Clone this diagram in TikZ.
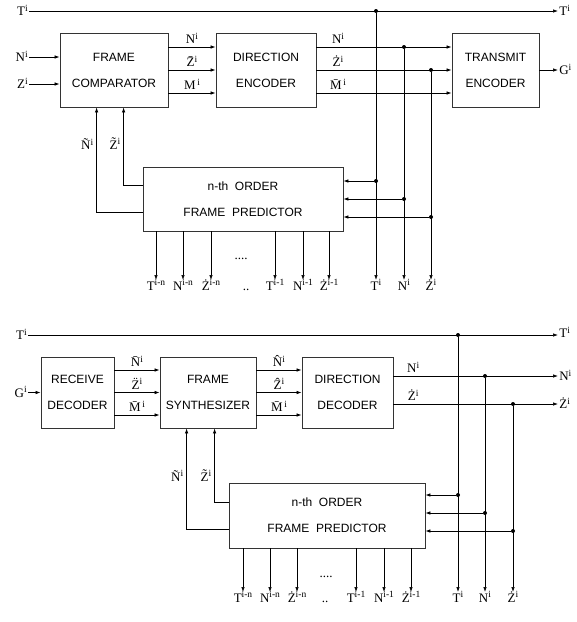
\documentclass[tikz,border=0pt]{standalone}
\usepackage{fontspec}
\setmainfont{Liberation Serif}
\setsansfont{Liberation Sans}
\usetikzlibrary{arrows.meta,positioning,calc}
\newcommand{\sig}[2]{#1\raisebox{4.5pt}{\fontsize{9.5}{10}\selectfont#2}}
\tikzset{
  blockbox/.style={draw=black!80, line width=0.8pt, align=center, inner sep=0pt,
    font=\fontsize{12}{26}\selectfont\sffamily},
  lbl/.style={font=\fontsize{13}{15}\selectfont, inner sep=1pt,
    text height=9pt, text depth=0pt},
  arrw/.style={-{Latex[length=5pt,width=3.5pt]}},
  tap/.style={circle, fill, inner sep=0pt, minimum size=4pt},
}
\begin{document}
\begin{tikzpicture}[x=1pt, y=-1pt, line width=0.7pt]
  \useasboundingbox (0,0) rectangle (577,622);

  % ---------------- transmitter ----------------
  \node[blockbox, minimum width=108pt, minimum height=74pt] (comp) at (114,70)
    {FRAME\\COMPARATOR};
  \node[blockbox, minimum width=100pt, minimum height=74pt] (denc) at (266,70)
    {DIRECTION\\ENCODER};
  \node[blockbox, minimum width=87pt, minimum height=74pt] (tenc) at (495.5,70)
    {TRANSMIT\\ENCODER};
  \node[blockbox, minimum width=200pt, minimum height=64pt] (predA) at (243,199)
    {n-th\ \ ORDER\\FRAME\ \ PREDICTOR};

  % inputs / outputs
  \node[lbl, anchor=east] (tA) at (29,11) {\sig{T}{i}};
  \node[lbl, anchor=west] (tAout) at (558,11) {\sig{T}{i}};
  \node[lbl, anchor=east] (nA) at (29,57) {\sig{N}{i}};
  \node[lbl, anchor=east] (zA) at (29,84) {\sig{Z}{i}};
  \node[lbl, anchor=west] (gA) at (558,70) {\sig{G}{i}};

  \draw[arrw] (tA) -- (tAout);
  \draw[arrw] (nA) -- (nA -| comp.west);
  \draw[arrw] (zA) -- (zA -| comp.west);

  \draw[arrw] ([yshift=23pt]comp.east) -- ([yshift=23pt]denc.west)
    node[lbl, midway, above=2pt] {\sig{N}{i}};
  \draw[arrw] (comp.east) -- (denc.west)
    node[lbl, midway, above=2pt] {\sig{\=Z}{i}};
  \draw[arrw] ([yshift=-23pt]comp.east) -- ([yshift=-23pt]denc.west)
    node[lbl, midway, above=2pt] {\sig{M}{\,i}};

  \draw[arrw] ([yshift=23pt]denc.east) -- ([yshift=23pt]tenc.west)
    node[lbl, pos=0.16, above=2pt] {\sig{N}{i}};
  \draw[arrw] (denc.east) -- (tenc.west)
    node[lbl, pos=0.16, above=2pt] {\sig{\.Z}{i}};
  \draw[arrw] ([yshift=-23pt]denc.east) -- ([yshift=-23pt]tenc.west)
    node[lbl, pos=0.16, above=2pt] {\sig{\=M}{\,i}};
  \draw[arrw] (tenc) -- (gA);

  % taps
  \node[tap] (dTA) at (376,11) {};
  \node[tap] (dNA) at (404,47) {};
  \node[tap] (dZA) at (431,70) {};
  \node[tap] (pTA) at (376,181) {};
  \node[tap] (pNA) at (404,199) {};
  \node[tap] (pZA) at (431,217) {};

  \node[lbl, anchor=north] (tAd) at (376,280) {\sig{T}{i}};
  \node[lbl, anchor=north] (nAd) at (404,280) {\sig{N}{i}};
  \node[lbl, anchor=north] (zAd) at (431,280) {\sig{\.Z}{i}};
  \draw[arrw] (dTA) -- (tAd);
  \draw[arrw] (dNA) -- (nAd);
  \draw[arrw] (dZA) -- (zAd);
  \draw[arrw] (pTA) -- (pTA -| predA.east);
  \draw[arrw] (pNA) -- (pNA -| predA.east);
  \draw[arrw] (pZA) -- (pZA -| predA.east);

  % feedback
  \draw[arrw] ([yshift=-13pt]predA.west) -| ([xshift=37pt]comp.south west)
    node[lbl, pos=0.82, left=2pt] {\sig{\~N}{i}};
  \draw[arrw] ([yshift=14pt]predA.west) -| ([xshift=64pt]comp.south west)
    node[lbl, pos=0.76, left=2pt] {\sig{\~Z}{i}};

  % predictor outputs
  \node[lbl, anchor=north] (oA1) at (156,280) {\sig{T}{i-n}};
  \node[lbl, anchor=north] (oA2) at (183,280) {\sig{N}{i-n}};
  \node[lbl, anchor=north] (oA3) at (211,280) {\sig{\.Z}{i-n}};
  \node[lbl, anchor=north] (oA4) at (275,280) {\sig{T}{i-1}};
  \node[lbl, anchor=north] (oA5) at (303,280) {\sig{N}{i-1}};
  \node[lbl, anchor=north] (oA6) at (329,280) {\sig{\.Z}{i-1}};
  \node[lbl, anchor=north] (skA) at (246,280) {..};
  \node[lbl] (dotsA) at (241,255) {....};
  \draw[arrw] (oA1 |- predA.south) -- (oA1);
  \draw[arrw] (oA2 |- predA.south) -- (oA2);
  \draw[arrw] (oA3 |- predA.south) -- (oA3);
  \draw[arrw] (oA4 |- predA.south) -- (oA4);
  \draw[arrw] (oA5 |- predA.south) -- (oA5);
  \draw[arrw] (oA6 |- predA.south) -- (oA6);

  % ---------------- receiver ----------------
  \node[blockbox, minimum width=73pt, minimum height=71pt] (rdec) at (77.5,392.5)
    {RECEIVE\\DECODER};
  \node[blockbox, minimum width=96pt, minimum height=71pt] (synth) at (208,392.5)
    {FRAME\\SYNTHESIZER};
  \node[blockbox, minimum width=91pt, minimum height=71pt] (ddec) at (347.5,392.5)
    {DIRECTION\\DECODER};
  \node[blockbox, minimum width=196pt, minimum height=65pt] (predB) at (327,515.5)
    {n-th\ \ ORDER\\FRAME\ \ PREDICTOR};

  \node[lbl, anchor=east] (tB) at (28,335) {\sig{T}{i}};
  \node[lbl, anchor=west] (tBout) at (558,333) {\sig{T}{i}};
  \node[lbl, anchor=east] (gB) at (28,392.5) {\sig{G}{i}};
  \node[lbl, anchor=west] (nBout) at (558,376) {\sig{N}{i}};
  \node[lbl, anchor=west] (zBout) at (558,404) {\sig{\.Z}{i}};

  \draw[arrw] (tB) -- (tB -| tBout.west);
  \draw[arrw] (gB) -- (gB -| rdec.west);

  \draw[arrw] ([yshift=22.5pt]rdec.east) -- ([yshift=22.5pt]synth.west)
    node[lbl, midway, above=2pt] {\sig{\=N}{i}};
  \draw[arrw] (rdec.east) -- (synth.west)
    node[lbl, midway, above=2pt] {\sig{\"Z}{i}};
  \draw[arrw] ([yshift=-22.5pt]rdec.east) -- ([yshift=-22.5pt]synth.west)
    node[lbl, midway, above=2pt] {\sig{\=M}{\,i}};

  \draw[arrw] ([yshift=22.5pt]synth.east) -- ([yshift=22.5pt]ddec.west)
    node[lbl, midway, above=2pt] {\sig{\^N}{i}};
  \draw[arrw] (synth.east) -- (ddec.west)
    node[lbl, midway, above=2pt] {\sig{\^Z}{i}};
  \draw[arrw] ([yshift=-22.5pt]synth.east) -- ([yshift=-22.5pt]ddec.west)
    node[lbl, midway, above=2pt] {\sig{\=M}{\,i}};

  \draw[arrw] (nBout -| ddec.east) -- (nBout)
    node[lbl, pos=0.12, above=2pt] {\sig{N}{i}};
  \draw[arrw] (zBout -| ddec.east) -- (zBout)
    node[lbl, pos=0.12, above=2pt] {\sig{\.Z}{i}};

  % taps
  \node[tap] (dTB) at (458,335) {};
  \node[tap] (dNB) at (485,376) {};
  \node[tap] (dZB) at (513,404) {};
  \node[tap] (pTB) at (458,495) {};
  \node[tap] (pNB) at (485,513) {};
  \node[tap] (pZB) at (513,531) {};

  \node[lbl, anchor=north] (tBd) at (458,592) {\sig{T}{i}};
  \node[lbl, anchor=north] (nBd) at (485,592) {\sig{N}{i}};
  \node[lbl, anchor=north] (zBd) at (513,592) {\sig{\.Z}{i}};
  \draw[arrw] (dTB) -- (tBd);
  \draw[arrw] (dNB) -- (nBd);
  \draw[arrw] (dZB) -- (zBd);
  \draw[arrw] (pTB) -- (pTB -| predB.east);
  \draw[arrw] (pNB) -- (pNB -| predB.east);
  \draw[arrw] (pZB) -- (pZB -| predB.east);

  % feedback
  \draw[arrw] ([yshift=-13.5pt]predB.west) -| ([xshift=27pt]synth.south west)
    node[lbl, pos=0.76, left=2pt] {\sig{\~N}{i}};
  \draw[arrw] ([yshift=13.5pt]predB.west) -| ([xshift=55pt]synth.south west)
    node[lbl, pos=0.67, left=2pt] {\sig{\~Z}{i}};

  % predictor outputs
  \node[lbl, anchor=north] (oB1) at (243,592) {\sig{T}{i-n}};
  \node[lbl, anchor=north] (oB2) at (270,592) {\sig{N}{i-n}};
  \node[lbl, anchor=north] (oB3) at (297,592) {\sig{\.Z}{i-n}};
  \node[lbl, anchor=north] (oB4) at (356,592) {\sig{T}{i-1}};
  \node[lbl, anchor=north] (oB5) at (384,592) {\sig{N}{i-1}};
  \node[lbl, anchor=north] (oB6) at (411,592) {\sig{\.Z}{i-1}};
  \node[lbl, anchor=north] (skB) at (325,592) {..};
  \node[lbl] (dotsB) at (326,573) {....};
  \draw[arrw] (oB1 |- predB.south) -- (oB1);
  \draw[arrw] (oB2 |- predB.south) -- (oB2);
  \draw[arrw] (oB3 |- predB.south) -- (oB3);
  \draw[arrw] (oB4 |- predB.south) -- (oB4);
  \draw[arrw] (oB5 |- predB.south) -- (oB5);
  \draw[arrw] (oB6 |- predB.south) -- (oB6);
\end{tikzpicture}
\end{document}
